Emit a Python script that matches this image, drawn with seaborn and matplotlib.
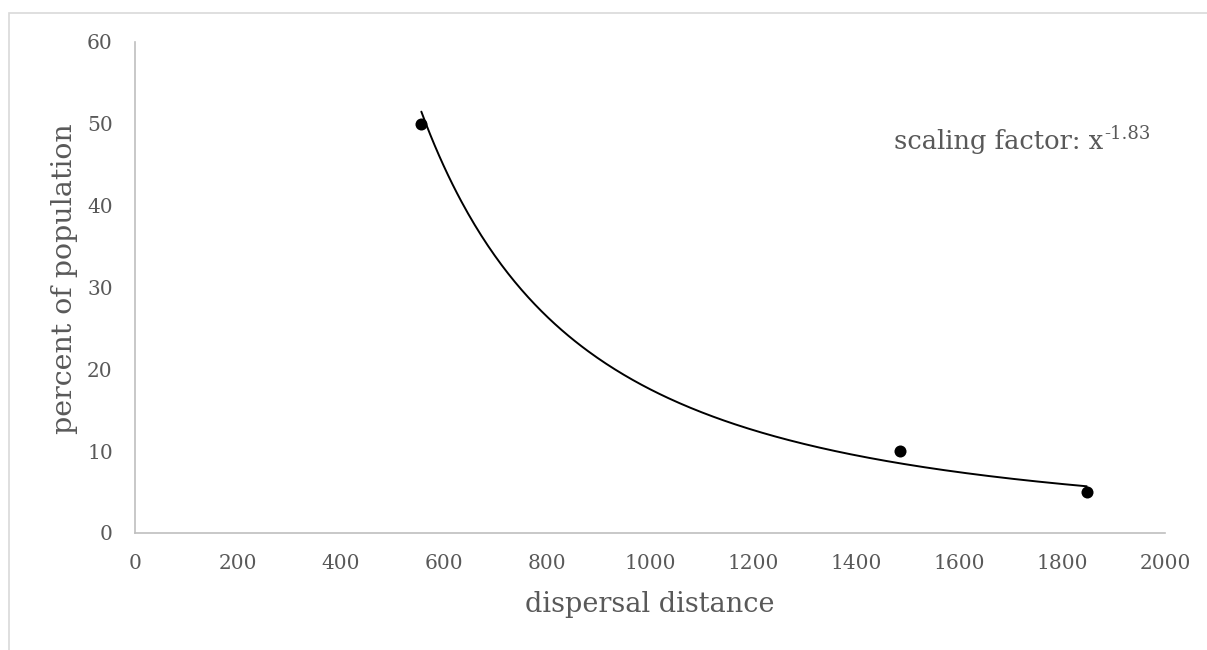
import numpy as np
import matplotlib
matplotlib.use("Agg")
import matplotlib.pyplot as plt
import seaborn as sns
import pandas as pd
from matplotlib.patches import Rectangle

# data
distance = [556, 1486, 1848]
percent = [50, 10, 5]
x_ticks = [0, 200, 400, 600, 800, 1000, 1200, 1400, 1600, 1800, 2000]
y_ticks = [0, 10, 20, 30, 40, 50, 60]
x_label = "dispersal distance"
y_label = "percent of population"

sns.set_theme(style="white")
plt.rcParams['font.family'] = ['DejaVu Serif']

W, H = 1207, 650
fig = plt.figure(figsize=(W / 100, H / 100), dpi=100)
ax = fig.add_axes([135 / W, 1 - 533 / H, (1165 - 135) / W, (533 - 42) / H])

df = pd.DataFrame({"x": distance, "y": percent})

# power trendline fitted from the data (log-log least squares)
b, loga = np.polyfit(np.log(df["x"]), np.log(df["y"]), 1)
xs = np.linspace(min(distance), max(distance), 300)
ys = np.exp(loga) * xs ** b
sns.lineplot(x=xs, y=ys, ax=ax, color="black", linewidth=1.4, zorder=2)
sns.scatterplot(data=df, x="x", y="y", ax=ax, color="black", s=75,
                edgecolor="black", linewidth=0, zorder=3)

ax.set_xlim(0, 2000)
ax.set_ylim(0, 60)
ax.set_xticks(x_ticks)
ax.set_yticks(y_ticks)
ax.tick_params(axis="both", length=0, labelsize=14.5, labelcolor="#595959")
ax.tick_params(axis="x", pad=15)
ax.tick_params(axis="y", pad=16)
for side in ["top", "right"]:
    ax.spines[side].set_visible(False)
for side in ["left", "bottom"]:
    ax.spines[side].set_color("#bfbfbf")
    ax.spines[side].set_linewidth(1.2)

ax.set_xlabel(x_label, fontsize=19.5, color="#595959")
ax.set_ylabel(y_label, fontsize=20.5, color="#595959")
ax.xaxis.set_label_coords(0.5, (533 - 605) / 491)
ax.yaxis.set_label_coords((65 - 135) / 1030, (533 - 279) / 491)
ax.xaxis.label.set_va("center")
ax.yaxis.label.set_va("center")

t = fig.text(894 / W, 1 - 142 / H, "scaling factor: x",
             fontsize=18.5, color="#595959", ha="left", va="center")
fig.canvas.draw()
ax.annotate("%.2f" % b, xy=(1, 1), xycoords=t, xytext=(0.5, 3.5),
            textcoords="offset points", fontsize=13, color="#595959",
            ha="left", va="top")

fig.add_artist(Rectangle((8.5 / W, -0.1), 1.2, (650 - 12.5) / H + 0.1,
                         transform=fig.transFigure, fill=False,
                         edgecolor="#d9d9d9", linewidth=1.2))

fig.savefig("out.png", dpi=100)
